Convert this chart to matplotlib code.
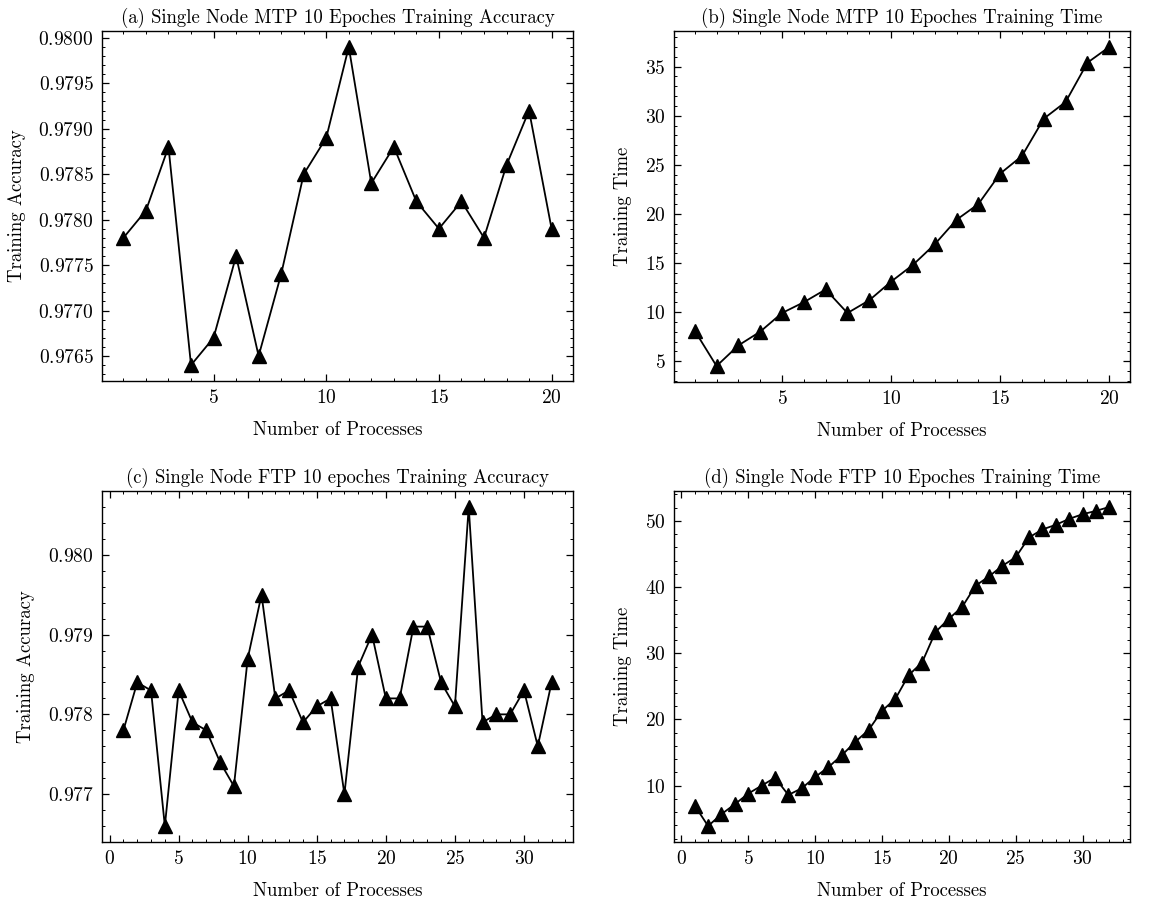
import matplotlib
matplotlib.use("Agg")
import matplotlib.pyplot as plt
from matplotlib.ticker import AutoMinorLocator, MultipleLocator

plt.rcParams.update({
    "font.family": "serif",
    "font.serif": ["cmr10", "DejaVu Serif"],
    "mathtext.fontset": "cm",
    "axes.formatter.use_mathtext": True,
    "font.size": 14,
    "axes.linewidth": 1.0,
    "xtick.direction": "in",
    "ytick.direction": "in",
    "xtick.top": True,
    "ytick.right": True,
    "xtick.major.size": 5,
    "ytick.major.size": 5,
    "xtick.minor.size": 2.5,
    "ytick.minor.size": 2.5,
    "xtick.major.width": 0.9,
    "ytick.major.width": 0.9,
    "xtick.minor.width": 0.7,
    "ytick.minor.width": 0.7,
    "xtick.minor.visible": True,
    "ytick.minor.visible": True,
})

# (a) MTP accuracy, 1..20 processes
mtp_procs = list(range(1, 21))
mtp_acc = [0.9778, 0.9781, 0.9788, 0.9764, 0.9767, 0.9776, 0.9765, 0.9774, 0.9785, 0.9789,
           0.9799, 0.9784, 0.9788, 0.9782, 0.9779, 0.9782, 0.9778, 0.9786, 0.9792, 0.9779]
# (b) MTP time
mtp_time = [8.1, 4.5, 6.6, 8.0, 9.9, 11.0, 12.3, 9.9, 11.2, 13.1,
            14.8, 16.9, 19.4, 21.0, 24.1, 25.9, 29.7, 31.4, 35.4, 37.0]

# (c) FTP accuracy, 1..32 processes
ftp_procs = list(range(1, 33))
ftp_acc = [0.9778, 0.9784, 0.9783, 0.9766, 0.9783, 0.9779, 0.9778, 0.9774, 0.9771, 0.9787,
           0.9795, 0.9782, 0.9783, 0.9779, 0.9781, 0.9782, 0.9770, 0.9786, 0.9790, 0.9782,
           0.9782, 0.9791, 0.9791, 0.9784, 0.9781, 0.9806, 0.9779, 0.9780, 0.9780, 0.9783,
           0.9776, 0.9784]
# (d) FTP time
ftp_time = [7.0, 3.9, 5.7, 7.2, 8.8, 10.0, 11.2, 8.6, 9.6, 11.3,
            12.8, 14.6, 16.6, 18.4, 21.3, 23.1, 26.7, 28.6, 33.2, 35.2,
            37.0, 40.2, 41.6, 43.2, 44.5, 47.5, 48.7, 49.4, 50.3, 51.0,
            51.5, 52.1]

W, H = 1153, 898
fig = plt.figure(figsize=(W / 100, H / 100), dpi=100)


def box(l, t, r, b):
    return [l / W, 1 - b / H, (r - l) / W, (b - t) / H]


panels = [
    (box(102, 31, 573, 381), mtp_procs, mtp_acc,
     "(a) Single Node MTP 10 Epoches Training Accuracy", "Training Accuracy", 0.0005, 5),
    (box(674, 31, 1130, 382), mtp_procs, mtp_time,
     "(b) Single Node MTP 10 Epoches Training Time", "Training Time", 5, 5),
    (box(102, 491, 573, 842), ftp_procs, ftp_acc,
     "(c) Single Node FTP 10 epoches Training Accuracy", "Training Accuracy", 0.001, 5),
    (box(674, 491, 1130, 842), ftp_procs, ftp_time,
     "(d) Single Node FTP 10 Epoches Training Time", "Training Time", 10, 5),
]

for rect, x, y, title, ylab, ystep, nminor in panels:
    ax = fig.add_axes(rect)
    ax.plot(x, y, color="black", lw=1.3, marker="^", markersize=9.5)
    ax.set_title(title, fontsize=13.5, pad=6)
    ax.set_xlabel("Number of Processes", fontsize=13.5, labelpad=10)
    ax.set_ylabel(ylab, fontsize=13.5, labelpad=9)
    ax.xaxis.set_major_locator(MultipleLocator(5))
    ax.yaxis.set_major_locator(MultipleLocator(ystep))
    ax.xaxis.set_minor_locator(AutoMinorLocator(5))
    ax.yaxis.set_minor_locator(AutoMinorLocator(nminor))
    ax.ticklabel_format(axis="y", useOffset=False)
    ax.tick_params(which="major", pad=6, labelsize=14)

fig.savefig("out.png", dpi=100)
